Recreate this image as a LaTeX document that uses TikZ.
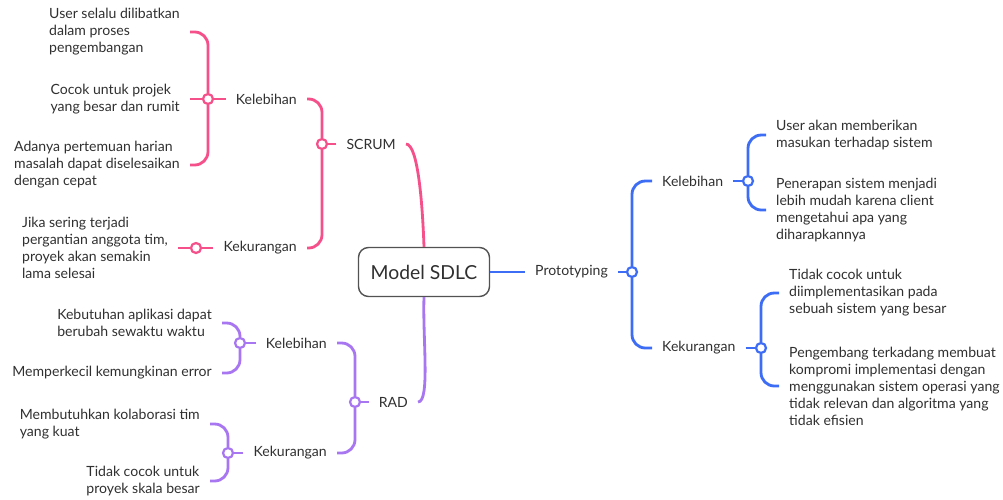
\documentclass[tikz,border=0pt]{standalone}
\usepackage{fontspec}
\setmainfont{Lato}
\definecolor{pinkbr}{RGB}{245,80,138}
\definecolor{purplebr}{RGB}{167,118,240}
\definecolor{bluebr}{RGB}{62,109,245}
\definecolor{txt}{RGB}{48,48,48}
\begin{document}
\begin{tikzpicture}[x=0.03cm, y=-0.03cm,
  main/.style = {draw=black!68, line width=1.2pt, rounded corners=0.3cm, minimum width=3.93cm, minimum height=1.47cm, text=txt, font=\fontsize{16.5}{19}\selectfont},
  topic/.style = {text=txt, inner xsep=0.3cm, inner ysep=0pt, align=left, font=\fontsize{12}{14.5}\selectfont},
  knob/.style = {circle, draw=#1, fill=white, line width=1.9pt, inner sep=0pt, minimum size=0.3cm},
  br/.style = {draw=#1, line width=2.4pt, rounded corners=0.4cm}]
      \useasboundingbox (0,0) rectangle (1003,499);
      \node[main] (sdlc) at (424,272) {Model SDLC};
      \node[topic, anchor=east] (scrum) at (406,144) {SCRUM};
      \draw[br=pinkbr] (sdlc.north) to[out=92, in=0, in looseness=0.3] (scrum.east);
      \node[knob=pinkbr] (c1) at (322,144) {};
      \node[topic, anchor=east] (skel) at (307,99) {Kelebihan};
      \node[topic, anchor=east] (skek) at (307,248) {Kekurangan};
      \draw[br=pinkbr] (scrum) -- (c1);
      \draw[br=pinkbr] (c1) |- (skel);
      \draw[br=pinkbr] (c1) |- (skek);
      \node[knob=pinkbr] (c2) at (208,99) {};
      \node[knob=pinkbr] (c3) at (196,248) {};
      \draw[br=pinkbr] (skel) -- (c2);
      \draw[br=pinkbr] (skek) -- (c3);
      \node[topic, anchor=east] (s1) at (190,32) {User selalu dilibatkan\\dalam proses\\pengembangan};
      \node[topic, anchor=east] (s2) at (190,99) {Cocok untuk projek\\yang besar dan rumit};
      \node[topic, anchor=east] (s3) at (190,165) {Adanya pertemuan harian\\masalah dapat diselesaikan\\dengan cepat};
      \node[topic, anchor=east] (s4) at (178,248) {Jika sering terjadi\\pergantian anggota tim,\\proyek akan semakin\\lama selesai};
      \draw[br=pinkbr] (c2) |- (s1);
      \draw[br=pinkbr] (c2) -- (s2);
      \draw[br=pinkbr] (c2) |- (s3);
      \draw[br=pinkbr] (c3) -- (s4);
      \node[topic, anchor=east] (rad) at (418,402) {RAD};
      \draw[br=purplebr] (sdlc.south) to[out=-92, in=0, in looseness=0.3] (rad.east);
      \node[knob=purplebr] (c4) at (355,402) {};
      \node[topic, anchor=east] (rkel) at (337,343) {Kelebihan};
      \node[topic, anchor=east] (rkek) at (337,453) {Kekurangan};
      \draw[br=purplebr] (rad) -- (c4);
      \draw[br=purplebr] (c4) |- (rkel);
      \draw[br=purplebr] (c4) |- (rkek);
      \node[knob=purplebr] (c5) at (240,343) {};
      \node[knob=purplebr] (c6) at (228,453) {};
      \draw[br=purplebr] (rkel) -- (c5);
      \draw[br=purplebr] (rkek) -- (c6);
      \node[topic, anchor=east] (r1) at (222,323) {Kebutuhan aplikasi dapat\\berubah sewaktu waktu};
      \node[topic, anchor=east] (r2) at (222,373) {Memperkecil kemungkinan error};
      \node[topic, anchor=east] (r3) at (210,424) {Membutuhkan kolaborasi tim\\yang kuat};
      \node[topic, anchor=east] (r4) at (210,481) {Tidak cocok untuk\\proyek skala besar};
      \draw[br=purplebr] (c5) |- (r1);
      \draw[br=purplebr] (c5) |- (r2);
      \draw[br=purplebr] (c6) |- (r3);
      \draw[br=purplebr] (c6) |- (r4);
      \node[topic, anchor=west] (proto) at (525,272) {Prototyping};
      \draw[br=bluebr] (sdlc) -- (proto);
      \node[knob=bluebr] (c7) at (632,272) {};
      \node[topic, anchor=west] (pkel) at (652,181) {Kelebihan};
      \node[topic, anchor=west] (pkek) at (652,348) {Kekurangan};
      \draw[br=bluebr] (proto) -- (c7);
      \draw[br=bluebr] (c7) |- (pkel);
      \draw[br=bluebr] (c7) |- (pkek);
      \node[knob=bluebr] (c8) at (748,181) {};
      \node[knob=bluebr] (c9) at (761,348) {};
      \draw[br=bluebr] (pkel) -- (c8);
      \draw[br=bluebr] (pkek) -- (c9);
      \node[topic, anchor=west] (p1) at (766,135) {User akan memberikan\\masukan terhadap sistem};
      \node[topic, anchor=west] (p2) at (766,210) {Penerapan sistem menjadi\\lebih mudah karena client\\mengetahui apa yang\\diharapkannya};
      \node[topic, anchor=west] (p3) at (779,293) {Tidak cocok untuk\\diimplementasikan pada\\sebuah sistem yang besar};
      \node[topic, anchor=west] (p4) at (779,386) {Pengembang terkadang membuat\\kompromi implementasi dengan\\menggunakan sistem operasi yang\\tidak relevan dan algoritma yang\\tidak efisien};
      \draw[br=bluebr] (c8) |- (p1);
      \draw[br=bluebr] (c8) |- (p2);
      \draw[br=bluebr] (c9) |- (p3);
      \draw[br=bluebr] (c9) |- (p4);
\end{tikzpicture}
\end{document}
